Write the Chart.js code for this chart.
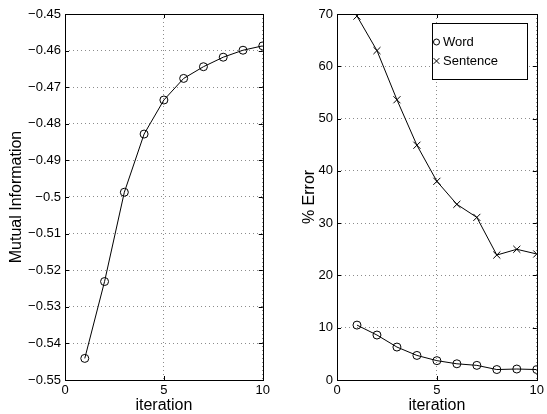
<!DOCTYPE html>
<html>
<head>
<meta charset="utf-8">
<script src="https://cdn.jsdelivr.net/npm/chart.js@4/dist/chart.umd.min.js"></script>
<style>
  html, body { margin: 0; padding: 0; background: #fff; }
  #wrap { position: relative; width: 547px; height: 414px; }
  canvas { position: absolute; top: 0; }
</style>
</head>
<body>
<div id="wrap">
  <canvas id="miChart" width="273" height="414" style="left:0"></canvas>
  <canvas id="errChart" width="274" height="414" style="left:273px"></canvas>
</div>
<script>
// data
const iterations = [1, 2, 3, 4, 5, 6, 7, 8, 9, 10];
const mutualInfo = [-0.5441, -0.5231, -0.4987, -0.4828, -0.4735, -0.4676, -0.4644, -0.4618, -0.4599, -0.4587];
const wordError = [10.5, 8.6, 6.3, 4.7, 3.7, 3.1, 2.8, 2.0, 2.1, 2.0];
const sentenceError = [69.6, 63.0, 53.6, 44.9, 38.0, 33.6, 31.1, 23.9, 25.0, 24.1];

const FONT = "'Liberation Sans', Arial, Helvetica, sans-serif";
Chart.defaults.font.family = FONT;
Chart.defaults.color = '#000';

const toPoints = (ys) => iterations.map((x, i) => ({ x, y: ys[i] }));

// black box + small inward ticks, MATLAB style
const framePlugin = {
    id: 'frame',
    afterDatasetsDraw(chart) {
        const { ctx, chartArea: a, scales } = chart;
        ctx.save();
        ctx.strokeStyle = '#000';
        ctx.lineWidth = 1;
        const tl = 4;
        ctx.beginPath();
        scales.x.ticks.forEach(t => {
            const px = Math.round(scales.x.getPixelForValue(t.value)) + 0.5;
            ctx.moveTo(px, a.bottom); ctx.lineTo(px, a.bottom - tl);
            ctx.moveTo(px, a.top); ctx.lineTo(px, a.top + tl);
        });
        scales.y.ticks.forEach(t => {
            const py = Math.round(scales.y.getPixelForValue(t.value)) + 0.5;
            ctx.moveTo(a.left, py); ctx.lineTo(a.left + tl, py);
            ctx.moveTo(a.right, py); ctx.lineTo(a.right - tl, py);
        });
        ctx.stroke();
        ctx.strokeRect(Math.round(a.left) + 0.5, Math.round(a.top) + 0.5,
            Math.round(a.right - a.left), Math.round(a.bottom - a.top));
        ctx.restore();
    }
};

// legend box inside the right plot
const boxLegendPlugin = {
    id: 'boxLegend',
    afterDraw(chart) {
        const { ctx } = chart;
        const x0 = 159, y0 = 23, w = 95, h = 56;
        ctx.save();
        ctx.fillStyle = '#fff';
        ctx.fillRect(x0, y0, w, h);
        ctx.strokeStyle = '#000';
        ctx.lineWidth = 1;
        ctx.strokeRect(x0 + 0.5, y0 + 0.5, w, h);
        ctx.font = '13px ' + FONT;
        ctx.textBaseline = 'middle';
        chart.data.datasets.forEach((ds, i) => {
            const yy = y0 + 19 + i * 19;
            ctx.fillStyle = 'rgba(0,0,0,0)';
            Chart.helpers.drawPoint(ctx, {
                pointStyle: ds.pointStyle, radius: ds.pointStyle === 'circle' ? 3 : 4, borderWidth: 1
            }, 163.5, yy);
            ctx.fillStyle = '#000';
            ctx.fillText(ds.label, 170, yy);
        });
        ctx.restore();
    }
};

function gridOpts() {
    return { color: '#8c8c8c', lineWidth: 1, drawTicks: false };
}

function xScale() {
    return {
        type: 'linear', min: 0, max: 10,
        ticks: { stepSize: 5, padding: 3, font: { size: 13 }, maxRotation: 0 },
        grid: gridOpts(),
        border: { display: false, dash: [1, 3] },
        title: {
            display: true, text: 'iteration',
            font: { size: 16, lineHeight: 1 }, padding: { top: 0, bottom: 0 }
        },
        afterFit(s) { s.height = 34; }
    };
}

new Chart(document.getElementById('miChart'), {
    type: 'line',
    data: {
        datasets: [{
            label: 'Mutual Information',
            data: toPoints(mutualInfo),
            borderColor: '#000',
            borderWidth: 1,
            pointStyle: 'circle',
            pointRadius: 4,
            pointBorderColor: '#000',
            pointBackgroundColor: 'rgba(0,0,0,0)',
            pointBorderWidth: 1,
            tension: 0
        }]
    },
    options: {
        responsive: false,
        animation: false,
        layout: { padding: { left: 0, top: 14, right: 9, bottom: 0 } },
        plugins: { legend: { display: false }, tooltip: { enabled: false } },
        scales: {
            x: xScale(),
            y: {
                min: -0.55, max: -0.45,
                ticks: {
                    stepSize: 0.01, padding: 4, font: { size: 13 },
                    callback: v => String(Math.round(v * 100) / 100).replace('-', '\u2212')
                },
                grid: gridOpts(),
                border: { display: false, dash: [1, 3] },
                title: {
                    display: true, text: 'Mutual Information',
                    font: { size: 16, lineHeight: 1 }, padding: { top: 9, bottom: 0 }
                },
                afterFit(s) { s.width = 65; }
            }
        }
    },
    plugins: [framePlugin]
});

new Chart(document.getElementById('errChart'), {
    type: 'line',
    data: {
        datasets: [{
            label: 'Word',
            data: toPoints(wordError),
            borderColor: '#000',
            borderWidth: 1,
            pointStyle: 'circle',
            pointRadius: 4,
            pointBorderColor: '#000',
            pointBackgroundColor: 'rgba(0,0,0,0)',
            pointBorderWidth: 1,
            tension: 0
        }, {
            label: 'Sentence',
            data: toPoints(sentenceError),
            borderColor: '#000',
            borderWidth: 1,
            pointStyle: 'crossRot',
            pointRadius: 5,
            pointBorderColor: '#000',
            pointBorderWidth: 1,
            tension: 0
        }]
    },
    options: {
        responsive: false,
        animation: false,
        layout: { padding: { left: 0, top: 14, right: 10, bottom: 0 } },
        plugins: { legend: { display: false }, tooltip: { enabled: false } },
        scales: {
            x: xScale(),
            y: {
                min: 0, max: 70,
                ticks: { stepSize: 10, padding: 4, font: { size: 13 } },
                grid: gridOpts(),
                border: { display: false, dash: [1, 3] },
                title: {
                    display: true, text: '% Error',
                    font: { size: 16, lineHeight: 1 }, padding: { top: 29, bottom: 0 }
                },
                afterFit(s) { s.width = 64; }
            }
        }
    },
    plugins: [framePlugin, boxLegendPlugin]
});
</script>
</body>
</html>
